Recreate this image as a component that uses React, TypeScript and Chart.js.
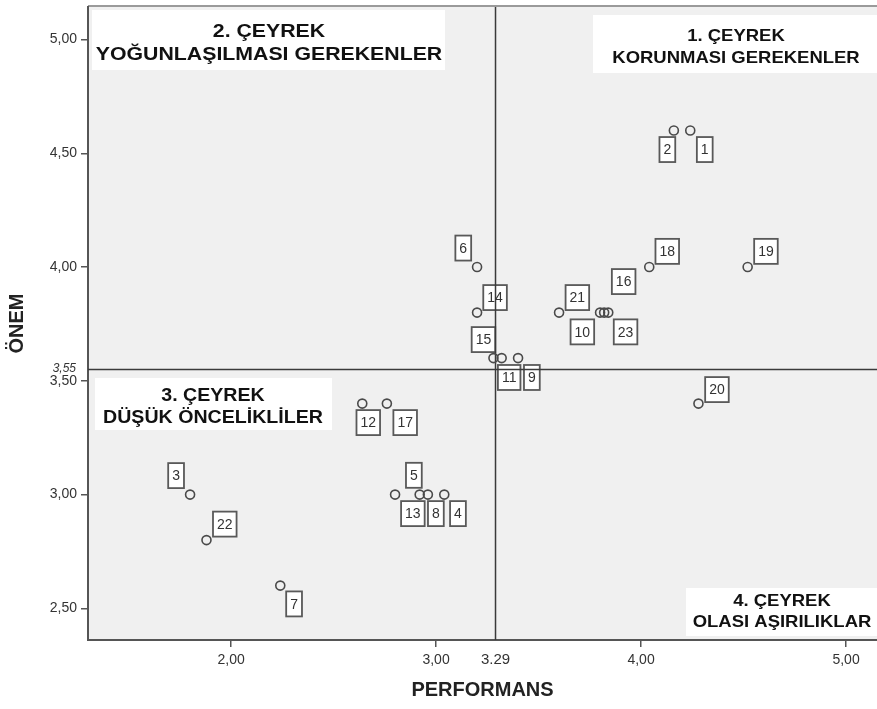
import React, { useEffect, useRef } from 'react';
import { Chart, registerables } from 'chart.js';

Chart.register(...registerables);

// ---- data ----
const pointIds = ['1', '2', '3', '4', '5', '6', '7', '8', '9', '10', '11', '12', '13', '14', '15', '16', '17', '18', '19', '20', '21', '22', '23'];
const performans = [4.24, 4.16, 1.8, 3.04, 2.8, 3.2, 2.24, 2.96, 3.4, 3.8, 3.32, 2.64, 2.92, 3.2, 3.28, 3.82, 2.76, 4.04, 4.52, 4.28, 3.6, 1.88, 3.84];
const onem = [4.6, 4.6, 3.0, 3.0, 3.0, 4.0, 2.6, 3.0, 3.6, 3.8, 3.6, 3.4, 3.0, 3.8, 3.6, 3.8, 3.4, 4.0, 4.0, 3.4, 3.8, 2.8, 3.8];
const xTickValues = [2, 3, 4, 5];
const yTickValues = [2.5, 3, 3.5, 4, 4.5, 5];
const performansMean = 3.29;
const onemMean = 3.55;
const performansMeanLabel = '3.29';
const onemMeanLabel = '3,55';
const xAxisTitle = 'PERFORMANS';
const yAxisTitle = 'ÖNEM';
const quadrant1 = ['1. ÇEYREK', 'KORUNMASI GEREKENLER'];
const quadrant2 = ['2. ÇEYREK', 'YOĞUNLAŞILMASI GEREKENLER'];
const quadrant3 = ['3. ÇEYREK', 'DÜŞÜK ÖNCELİKLİLER'];
const quadrant4 = ['4. ÇEYREK', 'OLASI AŞIRILIKLAR'];

// ---- label placement (style: box centre offset from its point, px) ----
const labelOffsets: [number, number][] = [
  [14.5, 19], [-6.5, 19], [-14, -19], [13.7, 19], [18.8, -19.3], [-13.8, -19], [13.8, 18.3], [8, 19],
  [13.8, 19.4], [-17.7, 19.3], [7.5, 19.4], [6, 19], [-6.8, 19], [18, -15], [-10, -18.5], [19.5, -31],
  [18.3, 19], [18, -15.7], [18.3, -15.7], [18.5, -14], [18.3, -15], [18.3, -16], [17.3, 19.3],
];

const FONT = '"Liberation Sans", Arial, sans-serif';

const fmt = (v: number) => v.toFixed(2).replace('.', ',');

function stretchText(ctx: CanvasRenderingContext2D, text: string, x: number, y: number, font: string, sx: number) {
  ctx.save();
  ctx.translate(x, y);
  ctx.scale(sx, 1);
  ctx.font = font;
  ctx.textAlign = 'center';
  ctx.textBaseline = 'middle';
  ctx.fillText(text, 0, 0);
  ctx.restore();
}

const quadrantPlugin = {
  id: 'quadrantPlugin',
  beforeDraw(chart: any) {
    const { ctx, chartArea: a } = chart;
    ctx.save();
    ctx.fillStyle = '#f0f0f0';
    ctx.fillRect(a.left, a.top, a.right - a.left, a.bottom - a.top);
    ctx.strokeStyle = '#9a9a9a';
    ctx.lineWidth = 2;
    ctx.beginPath();
    ctx.moveTo(a.left, a.top - 1);
    ctx.lineTo(a.right, a.top - 1);
    ctx.stroke();
    ctx.restore();
  },
  beforeDatasetsDraw(chart: any) {
    const { ctx, chartArea: a, scales } = chart;
    const xs = scales.x;
    const ys = scales.y;
    ctx.save();
    // quadrant title boxes
    const boxes = [
      { lines: quadrant2, l: a.left + 4, t: a.top + 3, r: 445, b: 70, cx: 269, y1: 32, y2: 55, size: 19 },
      { lines: quadrant1, l: 593, t: 15, r: a.right, b: 73, cx: 736, y1: 36, y2: 58, size: 16.5 },
      { lines: quadrant3, l: 95, t: 378, r: 332, b: 430, cx: 213, y1: 396, y2: 418, size: 17.5 },
      { lines: quadrant4, l: 686, t: 588, r: a.right, b: 636, cx: 782, y1: 601, y2: 622, size: 16.5 },
    ];
    boxes.forEach((bx) => {
      ctx.fillStyle = '#ffffff';
      ctx.fillRect(bx.l, bx.t, bx.r - bx.l, bx.b - bx.t);
      ctx.fillStyle = '#111111';
      const f = `bold ${bx.size}px ${FONT}`;
      stretchText(ctx, bx.lines[0], bx.cx, bx.y1, f, 1.12);
      stretchText(ctx, bx.lines[1], bx.cx, bx.y2, f, 1.12);
    });
    // point labels
    ctx.font = `14px ${FONT}`;
    pointIds.forEach((id, i) => {
      const px = xs.getPixelForValue(performans[i]);
      const py = ys.getPixelForValue(onem[i]);
      const [dx, dy] = labelOffsets[i];
      const cx = px + dx;
      const cy = py + dy;
      const w = ctx.measureText(id).width + 8;
      const h = 25;
      ctx.fillStyle = '#ffffff';
      ctx.fillRect(cx - w / 2, cy - h / 2, w, h);
      ctx.strokeStyle = '#595959';
      ctx.lineWidth = 1.8;
      ctx.strokeRect(cx - w / 2, cy - h / 2, w, h);
      ctx.fillStyle = '#333333';
      ctx.textAlign = 'center';
      ctx.textBaseline = 'middle';
      ctx.fillText(id, cx, cy + 1);
    });
    // mean lines
    const mx = xs.getPixelForValue(performansMean);
    const my = ys.getPixelForValue(onemMean);
    ctx.strokeStyle = '#3a3a3a';
    ctx.lineWidth = 1.5;
    ctx.beginPath();
    ctx.moveTo(mx, a.top);
    ctx.lineTo(mx, a.bottom);
    ctx.moveTo(a.left, my);
    ctx.lineTo(a.right, my);
    ctx.stroke();
    // mean tick labels
    ctx.fillStyle = '#333333';
    ctx.font = `15px ${FONT}`;
    ctx.textAlign = 'center';
    ctx.textBaseline = 'middle';
    ctx.fillText(performansMeanLabel, mx, 660);
    ctx.font = `italic 12px ${FONT}`;
    ctx.textAlign = 'right';
    ctx.fillText(onemMeanLabel, a.left - 12, my - 1);
    ctx.restore();
  },
};

export default function App() {
  const ref = useRef<HTMLCanvasElement | null>(null);
  useEffect(() => {
    if (!ref.current) return;
    Chart.defaults.font.family = FONT;
    const chart = new Chart(ref.current, {
      type: 'scatter',
      data: {
        datasets: [
          {
            data: performans.map((x, i) => ({ x, y: onem[i] })),
            pointRadius: 4.5,
            pointHoverRadius: 4.5,
            pointBorderWidth: 1.6,
            pointBorderColor: '#4a4a4a',
            pointBackgroundColor: 'rgba(0,0,0,0)',
          },
        ],
      },
      options: {
        responsive: false,
        animation: false,
        devicePixelRatio: 1,
        layout: { autoPadding: false, padding: { top: 7, right: 0, left: 0, bottom: 0 } },
        plugins: { legend: { display: false }, tooltip: { enabled: false } },
        scales: {
          x: {
            type: 'linear',
            min: 1.302,
            max: 5.151,
            afterBuildTicks: (s: any) => {
              s.ticks = xTickValues.map((v) => ({ value: v }));
            },
            afterFit: (s: any) => {
              s.height = 69;
              s.paddingLeft = 0;
              s.paddingRight = 0;
            },
            ticks: {
              callback: (v: any) => fmt(Number(v)),
              font: { size: 14 },
              color: '#333333',
              padding: 5,
              maxRotation: 0,
              autoSkip: false,
            },
            grid: { display: true, drawOnChartArea: false, drawTicks: true, tickLength: 7, color: '#555555', lineWidth: 1.5 },
            border: { display: true, color: '#555555', width: 2 },
            title: { display: true, text: xAxisTitle, font: { size: 20, weight: 'bold' }, color: '#222222', padding: { top: 0, bottom: 7 } },
          },
          y: {
            type: 'linear',
            min: 2.361,
            max: 5.143,
            afterBuildTicks: (s: any) => {
              s.ticks = yTickValues.map((v) => ({ value: v }));
            },
            afterFit: (s: any) => {
              s.width = 88;
              s.paddingTop = 0;
              s.paddingBottom = 0;
            },
            ticks: {
              callback: (v: any) => fmt(Number(v)),
              font: { size: 14 },
              color: '#333333',
              padding: 4,
              autoSkip: false,
            },
            grid: { display: true, drawOnChartArea: false, drawTicks: true, tickLength: 7, color: '#555555', lineWidth: 1.5 },
            border: { display: true, color: '#555555', width: 2 },
            title: { display: true, text: yAxisTitle, font: { size: 20, weight: 'bold' }, color: '#222222', padding: { top: 5, bottom: 0 } },
          },
        },
      },
      plugins: [quadrantPlugin],
    } as any);
    return () => chart.destroy();
  }, []);
  return (
    <div style={{ position: 'absolute', left: 0, top: 0, width: 877, height: 709, background: '#ffffff' }}>
      <canvas ref={ref} width={877} height={709} style={{ display: 'block' }} />
    </div>
  );
}
